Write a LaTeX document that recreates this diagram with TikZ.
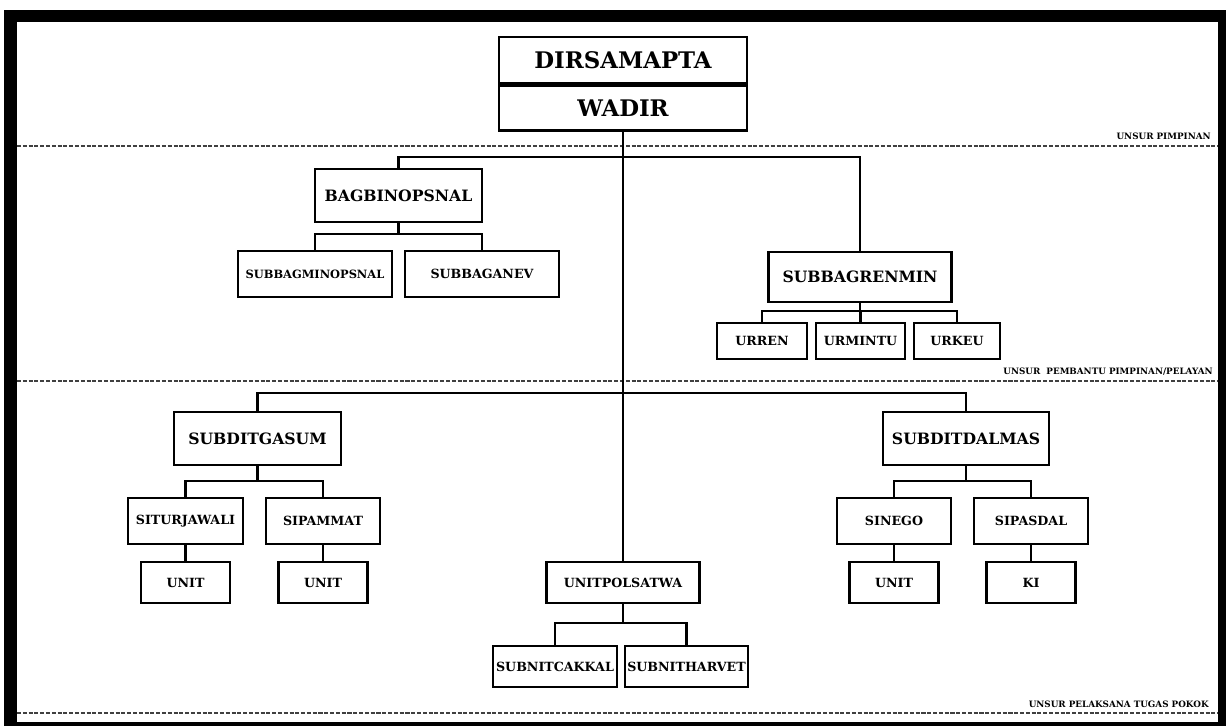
\documentclass[tikz,border=0pt]{standalone}
\usepackage{fontspec}
\setmainfont{DejaVu Serif}

\begin{document}
\begin{tikzpicture}[x=0.02cm,y=-0.02cm,
    dims/.style 2 args={minimum width=#1*0.02cm,minimum height=#2*0.02cm},
    box/.style={draw,line width=1.6pt,inner sep=0pt,font=\bfseries\fontsize{7.2}{8}\selectfont},
    headbox/.style={box,font=\bfseries\fontsize{13}{15}\selectfont},
    midbox/.style={box,font=\bfseries\fontsize{8.9}{10}\selectfont},
    link/.style={line width=1.2pt},
    sep/.style={line width=1.1pt,black!75,dash pattern=on 2.3pt off 1pt},
    unsur/.style={anchor=south east,inner sep=0pt,font=\bfseries\fontsize{5}{6}\selectfont}]
    % Frame
    \useasboundingbox (0,0) rectangle (1226,726);
    \fill (4,10) rectangle (1226,726);
    \fill[white] (17,22) rectangle (1218,722);

    % Separators with their labels
    \draw[sep] (17,146) -- (1218,146);
    \draw[sep] (17,381) -- (1218,381);
    \draw[sep] (17,713) -- (1218,713);
    \node[unsur] (pimpinan) at (1211,140) {UNSUR PIMPINAN};
    \node[unsur] (pembantu) at (1213,376) {UNSUR\ \ PEMBANTU PIMPINAN/PELAYAN};
    \node[unsur] (pelaksana) at (1209,708) {UNSUR PELAKSANA TUGAS POKOK};

    % Head
    \node[headbox,dims={248}{46}] (dir) at (623,60) {DIRSAMAPTA};
    \node[headbox,dims={248}{45},anchor=north] (wadir) at (dir.south) {WADIR};

    % Pembantu pimpinan
    \node[midbox,dims={167}{53}] (bag) at (398.5,195.5) {BAGBINOPSNAL};
    \node[box,dims={154}{46},font=\bfseries\fontsize{6.5}{8}\selectfont] (subbagmin) at (315,274) {SUBBAGMINOPSNAL};
    \node[box,dims={154}{46}] (subbaganev) at (482,274) {SUBBAGANEV};
    \node[midbox,dims={183}{50}] (renmin) at (860,277) {SUBBAGRENMIN};
    \node[box,dims={90}{36}] (urren) at (762,341) {URREN};
    \node[box,dims={89}{36}] (urmintu) at (860.5,341) {URMINTU};
    \node[box,dims={86}{36}] (urkeu) at (957,341) {URKEU};

    % Pelaksana tugas pokok
    \node[midbox,dims={167}{53}] (gasum) at (257.5,438.5) {SUBDITGASUM};
    \node[box,dims={115}{46}] (situr) at (185.5,521) {SITURJAWALI};
    \node[box,dims={114}{46}] (sipam) at (323,521) {SIPAMMAT};
    \node[box,dims={89}{41}] (unita) at (185.5,582.5) {UNIT};
    \node[box,dims={89}{41}] (unitb) at (323,582.5) {UNIT};

    \node[midbox,dims={166}{53}] (dalmas) at (966,438.5) {SUBDITDALMAS};
    \node[box,dims={114}{46}] (sinego) at (894,521) {SINEGO};
    \node[box,dims={114}{46}] (sipasdal) at (1031,521) {SIPASDAL};
    \node[box,dims={89}{41}] (unitc) at (894,582.5) {UNIT};
    \node[box,dims={89}{41}] (ki) at (1031,582.5) {KI};

    \node[box,dims={153}{41}] (polsatwa) at (623,582.5) {UNITPOLSATWA};
    \node[box,dims={124}{41}] (cakkal) at (555,666.5) {SUBNITCAKKAL};
    \node[box,dims={123}{41}] (harvet) at (686.5,666.5) {SUBNITHARVET};

    % Connectors
    \draw[link] (wadir.south) -- (polsatwa.north);
    \draw[link] (bag.north) -- ++(0,-11) -| (renmin.north);
    \foreach \c in {subbagmin,subbaganev}
    \draw[link] (bag.south) -- ++(0,11) -| (\c.north);
    \foreach \c in {urren,urmintu,urkeu}
    \draw[link] (renmin.south) -- ++(0,8) -| (\c.north);
    \draw[link] (gasum.north) -- ++(0,-18) -| (dalmas.north);
    \foreach \c in {situr,sipam}
    \draw[link] (gasum.south) -- ++(0,15) -| (\c.north);
    \foreach \c in {sinego,sipasdal}
    \draw[link] (dalmas.south) -- ++(0,15) -| (\c.north);
    \foreach \a/\b in {situr/unita,sipam/unitb,sinego/unitc,sipasdal/ki}
    \draw[link] (\a) -- (\b);
    \foreach \c in {cakkal,harvet}
    \draw[link] (polsatwa.south) -- ++(0,19) -| (\c.north);
\end{tikzpicture}
\end{document}
